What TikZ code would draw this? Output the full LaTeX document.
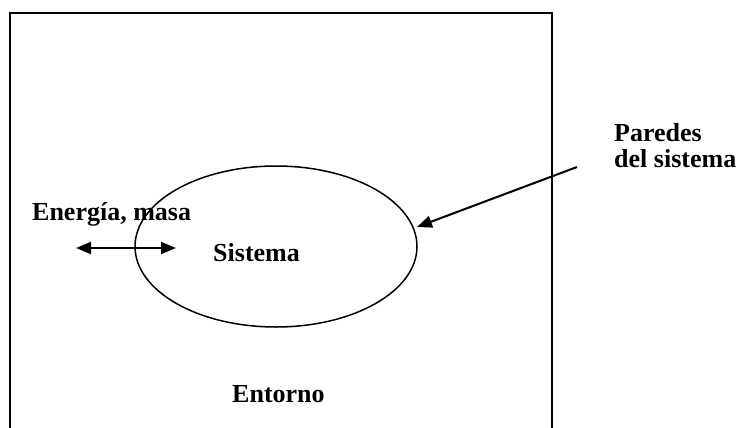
\documentclass[tikz,border=0pt]{standalone}
\usepackage{fontspec}
\setmainfont{Liberation Serif}
\usetikzlibrary{arrows.meta,shapes.geometric}
\tikzset{
  lbl/.style={font=\bfseries\fontsize{26}{26}\selectfont, inner sep=0pt, anchor=base west},
  frame/.style={line width=2pt},
  wall/.style={ellipse, draw, line width=1.5pt, minimum width=282pt, minimum height=161pt, inner sep=0pt},
  flow/.style={line width=2pt, -{Triangle[length=15pt,width=12pt]}},
  flow2/.style={line width=2pt, {Triangle[length=15pt,width=12pt]}-{Triangle[length=15pt,width=12pt]}}
}
\begin{document}
\begin{tikzpicture}[x=1pt,y=-1pt]
  \useasboundingbox (0,0) rectangle (741,428);
  \fill[white] (0,0) rectangle (741,428);
  % surroundings: box open at the bottom
  \draw[frame] (10,428) -- (10,13.5) -- (552,13.5) -- (552,428);
  % system boundary
  \node[wall] (sys) at (276,246.5) {};
  % labels
  \node[lbl] (sistema) at (213,261) {Sistema};
  \node[lbl] (energia) at (32,220) {Energía, masa};
  \node[lbl] (entorno) at (232,402) {Entorno};
  \node[lbl] (paredes) at (614,141) {Paredes};
  \node[lbl] (delsis) at (614,167) {del sistema};
  % exchange across the boundary
  \coordinate (exL) at (76,248);
  \coordinate (exR) at (176,248);
  \draw[flow2] (exL) -- (exR);
  % pointer to the walls
  \coordinate (wallsrc) at (577,167);
  \coordinate (walltip) at (417,227);
  \draw[flow] (wallsrc) -- (walltip);
\end{tikzpicture}
\end{document}
